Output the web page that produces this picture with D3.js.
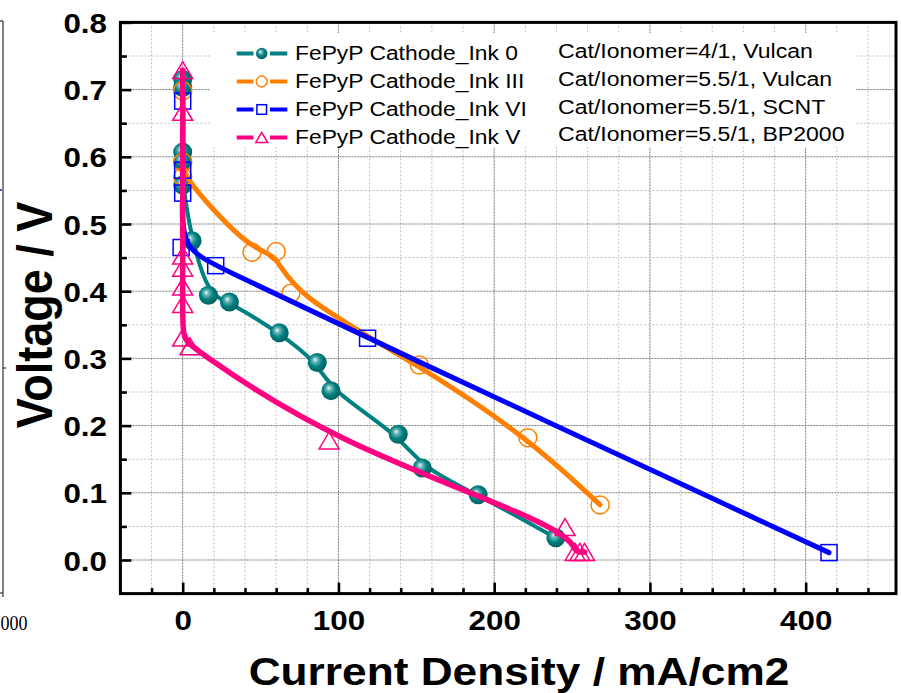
<!DOCTYPE html>
<html><head><meta charset="utf-8">
<script src="https://cdn.jsdelivr.net/npm/d3@7"></script>
<style>body{margin:0;background:#fff}svg{display:block}</style></head>
<body><svg id="c" width="901" height="693"></svg>
<script>
// ---- data ----
const seriesNames = ["FePyP Cathode_Ink 0", "FePyP Cathode_Ink III", "FePyP Cathode_Ink VI", "FePyP Cathode_Ink V"];
const notes = ["Cat/Ionomer=4/1, Vulcan", "Cat/Ionomer=5.5/1, Vulcan", "Cat/Ionomer=5.5/1, SCNT", "Cat/Ionomer=5.5/1, BP2000"];
const ink0X = [0, 0, 0, 0, 0, 6, 16.5, 30, 62, 86.4, 95.2, 138.4, 153.8, 189.7, 239.6];
const ink0Y = [0.715, 0.703, 0.607, 0.593, 0.558, 0.475, 0.394, 0.384, 0.338, 0.294, 0.252, 0.187, 0.137, 0.097, 0.033];
const ink3X = [0, 0, 0, 44.5, 60, 69.5, 152, 221.6, 268];
const ink3Y = [0.698, 0.592, 0.570, 0.458, 0.459, 0.397, 0.290, 0.182, 0.082];
const ink6X = [0, 0, 0, -1, 21.2, 118.7, 415];
const ink6Y = [0.683, 0.580, 0.546, 0.465, 0.438, 0.330, 0.011];
const ink5X = [0, 0, 0, 0, 0, 0, 0, 4.7, 94, 245.5, 252, 255, 258];
const ink5Y = [0.729, 0.667, 0.453, 0.435, 0.407, 0.381, 0.331, 0.318, 0.178, 0.049, 0.012, 0.012, 0.012];
const xTicks = [0, 100, 200, 300, 400];
const yTicks = [0.0, 0.1, 0.2, 0.3, 0.4, 0.5, 0.6, 0.7, 0.8];
const xTitle = "Current Density / mA/cm2";
const yTitle = "Voltage / V";
const fragmentLabel = "000";

const colors = ["#008080", "#FF8000", "#0000FF", "#FF0080"];
const markers = ["sphere", "circle", "square", "triangle"];
const widths = [4, 5, 5, 5.5];
const SX = 1.12; // horizontal stretch of text
const FONT = "'Liberation Sans', Arial, Helvetica, sans-serif";

const svg = d3.select("#c");
svg.append("rect").attr("width", 901).attr("height", 693).attr("fill", "#fff");

const defs = svg.append("defs");
const rg = defs.append("radialGradient").attr("id", "sph")
  .attr("cx", 0.45).attr("cy", 0.45).attr("r", 0.6).attr("fx", 0.38).attr("fy", 0.35);
rg.append("stop").attr("offset", 0).attr("stop-color", "#eef8f8");
rg.append("stop").attr("offset", 0.22).attr("stop-color", "#6ab8b8");
rg.append("stop").attr("offset", 0.55).attr("stop-color", "#008080");
rg.append("stop").attr("offset", 1).attr("stop-color", "#005a5a");

const x = d3.scaleLinear().domain([-40, 458]).range([120.4, 896]);
const y = d3.scaleLinear().domain([-0.05, 0.8]).range([593.6, 22.4]);

// left fragment of neighbouring figure
const frag = svg.append("g").attr("stroke", "#333").attr("stroke-width", 1.2);
frag.append("line").attr("x1", 3).attr("x2", 3).attr("y1", 21).attr("y2", 597);
frag.append("line").attr("x1", 0).attr("x2", 3).attr("y1", 21).attr("y2", 21);
frag.append("line").attr("x1", 0).attr("x2", 3).attr("y1", 593).attr("y2", 593);
frag.append("line").attr("x1", 3).attr("x2", 6).attr("y1", 368).attr("y2", 368);
svg.append("rect").attr("x", 0).attr("y", 189).attr("width", 2).attr("height", 2).attr("fill", "#4060d0");
svg.append("text").attr("x", 0.5).attr("y", 630).attr("text-anchor", "start")
  .attr("font-family", "'Liberation Serif', 'Times New Roman', serif").attr("font-size", 21)
  .attr("textLength", 27).attr("lengthAdjust", "spacingAndGlyphs").text(fragmentLabel);

// grid
const grid = svg.append("g");
for (let k = -1; k <= 22; k++) {
  const v = k * 20;
  if (v <= -40 || v >= 458) continue;
  const major = v % 100 === 0;
  grid.append("line").attr("x1", x(v)).attr("x2", x(v)).attr("y1", y(0.8)).attr("y2", y(-0.05))
    .attr("stroke", major ? "#7a7a7a" : "#bdbdbd").attr("stroke-width", 1)
    .attr("stroke-dasharray", major ? "2,1" : "2,2");
}
for (let k = 0; k <= 15; k++) {
  const v = k * 0.05;
  const major = k % 2 === 0;
  grid.append("line").attr("x1", x(-40)).attr("x2", x(458)).attr("y1", y(v)).attr("y2", y(v))
    .attr("stroke", major ? "#7a7a7a" : "#bdbdbd").attr("stroke-width", 1)
    .attr("stroke-dasharray", major ? "2,1" : "2,2");
}

// legend background
svg.append("rect").attr("x", 210).attr("y", 33).attr("width", 646).attr("height", 114).attr("fill", "#fff");

// markers
function drawMarker(g, type, cx, cy, color, s) {
  s = s || 1;
  if (type === "sphere") {
    g.append("circle").attr("cx", cx).attr("cy", cy).attr("r", 9.5 * s).attr("fill", "url(#sph)");
  } else if (type === "circle") {
    g.append("circle").attr("cx", cx).attr("cy", cy).attr("r", 9 * s).attr("fill", "none")
      .attr("stroke", color).attr("stroke-width", 1.5);
  } else if (type === "square") {
    const h = 8 * s;
    g.append("rect").attr("x", cx - h).attr("y", cy - h).attr("width", 2 * h).attr("height", 2 * h)
      .attr("fill", "none").attr("stroke", color).attr("stroke-width", 1.5);
  } else {
    const w = 10 * s, h = 8.5 * s;
    g.append("path").attr("d", `M${cx},${cy - h}L${cx + w},${cy + h}L${cx - w},${cy + h}Z`)
      .attr("fill", "none").attr("stroke", color).attr("stroke-width", 1.5);
  }
}

const allX = [ink0X, ink3X, ink6X, ink5X];
const allY = [ink0Y, ink3Y, ink6Y, ink5Y];
const line = d3.line().x(d => x(d[0])).y(d => y(d[1])).curve(d3.curveBasis);
allX.forEach((xs, i) => {
  const pts = xs.map((v, j) => [v, allY[i][j]]);
  const g = svg.append("g");
  g.append("path").attr("d", line(pts)).attr("fill", "none").attr("stroke", colors[i])
    .attr("stroke-width", widths[i]).attr("stroke-linejoin", "round").attr("stroke-linecap", "round");
  pts.forEach(p => drawMarker(g, markers[i], x(p[0]), y(p[1]), colors[i]));
});

// frame
svg.append("rect").attr("x", x(-40)).attr("y", y(0.8)).attr("width", x(458) - x(-40))
  .attr("height", y(-0.05) - y(0.8)).attr("fill", "none").attr("stroke", "#000").attr("stroke-width", 3);

// axes
const minorX = d3.range(-20, 458, 20).filter(v => v % 100 !== 0);
const minorY = d3.range(0.05, 0.8, 0.1);
const xa = svg.append("g").attr("transform", `translate(0,${y(-0.05)})`)
  .call(d3.axisBottom(x).tickValues(xTicks).tickSize(-11).tickFormat(d3.format("d")));
svg.append("g").attr("transform", `translate(0,${y(-0.05)})`)
  .call(d3.axisBottom(x).tickValues(minorX).tickSize(-5.5).tickFormat(""));
const ya = svg.append("g").attr("transform", `translate(${x(-40)},0)`)
  .call(d3.axisLeft(y).tickValues(yTicks).tickSize(-11).tickFormat(d3.format(".1f")));
svg.append("g").attr("transform", `translate(${x(-40)},0)`)
  .call(d3.axisLeft(y).tickValues(minorY).tickSize(-6.5).tickFormat(""));
svg.selectAll(".domain").remove();
svg.selectAll(".tick line").attr("stroke", "#000").attr("stroke-width", 2.6);
xa.selectAll("text").attr("y", 36.5).attr("dy", 0).attr("transform", `scale(${SX},1)`)
  .attr("font-family", FONT).attr("font-weight", "bold").attr("font-size", 28).attr("fill", "#000");
ya.selectAll("text").attr("x", -13.4 / SX).attr("dy", 0).attr("y", 10).attr("transform", `scale(${SX},1)`)
  .attr("font-family", FONT).attr("font-weight", "bold").attr("font-size", 28).attr("fill", "#000");

// titles
function stext(px, py, str, size, weight, anchor, rot) {
  const g = svg.append("g").attr("transform", `translate(${px},${py}) scale(${SX},1)`);
  const t = g.append("text").attr("font-family", FONT).attr("font-size", size)
    .attr("font-weight", weight).attr("text-anchor", anchor).attr("fill", "#000").text(str);
  if (rot) t.attr("transform", `rotate(${rot})`);
  return t;
}
stext(519, 685, xTitle, 39.5, "bold", "middle");
stext(51.5, 315, yTitle, 45, "bold", "middle", -90);

// legend
const rowY = [53.5, 81.5, 109.5, 137.5];
seriesNames.forEach((name, i) => {
  const cy = rowY[i];
  const g = svg.append("g");
  g.append("line").attr("x1", 236.7).attr("x2", 253.5).attr("y1", cy).attr("y2", cy)
    .attr("stroke", colors[i]).attr("stroke-width", 4);
  g.append("line").attr("x1", 270).attr("x2", 287.3).attr("y1", cy).attr("y2", cy)
    .attr("stroke", colors[i]).attr("stroke-width", 4);
  drawMarker(g, markers[i], 261.7, cy, colors[i], 0.6);
  stext(295, cy + 6.5, name, 20.4, "normal", "start");
});
const noteY = [58, 86, 113.5, 141];
notes.forEach((n, i) => stext(558, noteY[i], n, 20.6, "normal", "start"));
</script>
</body></html>
